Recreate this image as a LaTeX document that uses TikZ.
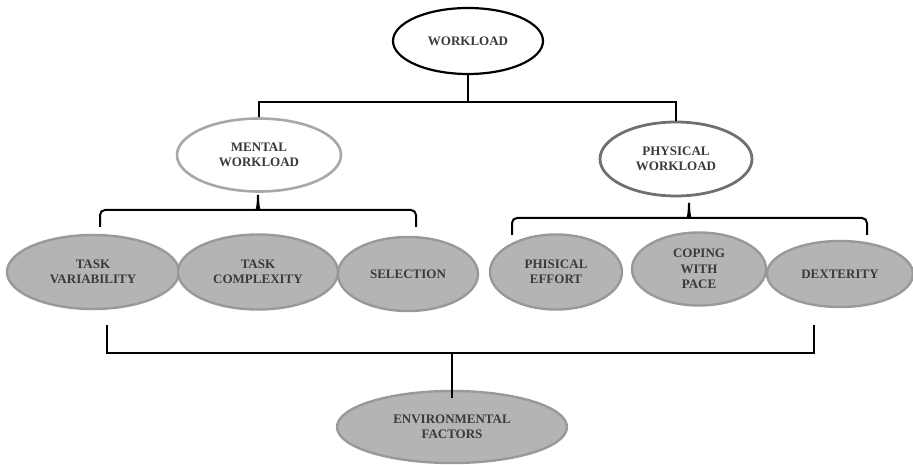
\documentclass[tikz,border=0pt]{standalone}
\usepackage{fontspec}
\setmainfont{Liberation Serif}
\usetikzlibrary{shapes.geometric}
\definecolor{txt}{HTML}{3A3A3A}
\definecolor{lightrim}{HTML}{A8A8A8}
\definecolor{darkrim}{HTML}{707070}
\definecolor{leaffill}{HTML}{B4B4B4}
\definecolor{leafrim}{HTML}{999999}
\tikzset{
  oval/.style={ellipse, inner sep=0pt, align=center, text=txt,
    font=\fontsize{13}{15.5}\selectfont\bfseries},
  rootoval/.style={oval, draw=black, line width=2.2pt, fill=white},
  mentaloval/.style={oval, draw=lightrim, line width=2.6pt, fill=white},
  physoval/.style={oval, draw=darkrim, line width=2.8pt, fill=white},
  leafoval/.style={oval, draw=leafrim, line width=2.4pt, fill=leaffill},
  link/.style={draw=black, line width=2pt},
  brace/.style={draw=black, line width=2pt, rounded corners=5pt}
}
\begin{document}
\begin{tikzpicture}[x=1pt, y=-1pt]
\useasboundingbox (0,0) rectangle (913,465);

% top level
\node[rootoval, minimum width=150, minimum height=66] (work) at (468,41) {WORKLOAD};
\node[mentaloval, minimum width=164, minimum height=73] (mental) at (259,155) {MENTAL\\WORKLOAD};
\node[physoval, minimum width=152, minimum height=74] (phys) at (676,159) {PHYSICAL\\WORKLOAD};

% second level
\node[leafoval, minimum width=172, minimum height=74] (tv) at (93,272) {TASK\\VARIABILITY};
\node[leafoval, minimum width=160, minimum height=75] (tc) at (258,272) {TASK\\COMPLEXITY};
\node[leafoval, minimum width=140, minimum height=74] (sel) at (408,274) {SELECTION};
\node[leafoval, minimum width=132, minimum height=75] (pe) at (556,272) {PHISICAL\\EFFORT};
\node[leafoval, minimum width=134, minimum height=73] (cp) at (699,269) {COPING\\WITH\\PACE};
\node[leafoval, minimum width=146, minimum height=66] (dx) at (840,274) {DEXTERITY};

% bottom
\node[leafoval, minimum width=230, minimum height=72] (env) at (452,427) {ENVIRONMENTAL\\FACTORS};

% tree from WORKLOAD to its two branches
\coordinate (topbar) at (0,102);
\draw[link] (work.south) -- (work.south |- topbar);
\draw[link] (mental.north) -- (mental.north |- topbar) -- (phys.north |- topbar) -- (phys.north);

% brace under MENTAL WORKLOAD
\coordinate (mL) at (100,227);
\coordinate (mR) at (416,227);
\coordinate (mT) at (258,195);
\draw[brace] (mL) -- (100,210) -- (252,210)
  .. controls (256,210) and (258,208) .. (mT);
\draw[brace] (mR) -- (416,210) -- (264,210)
  .. controls (260,210) and (258,208) .. (mT);

% brace under PHYSICAL WORKLOAD
\coordinate (pL) at (512,235);
\coordinate (pR) at (867,235);
\coordinate (pT) at (689,203);
\draw[brace] (pL) -- (512,218) -- (683,218)
  .. controls (687,218) and (689,216) .. (pT);
\draw[brace] (pR) -- (867,218) -- (695,218)
  .. controls (691,218) and (689,216) .. (pT);

% bracket joining the row to ENVIRONMENTAL FACTORS
\coordinate (bL) at (107,325);
\coordinate (bR) at (814,325);
\coordinate (botbar) at (0,353);
\draw[link] (bL) -- (bL |- botbar) -- (bR |- botbar) -- (bR);
\draw[link] (env.north |- botbar) -- ([yshift=-8pt]env.north);
\end{tikzpicture}
\end{document}
